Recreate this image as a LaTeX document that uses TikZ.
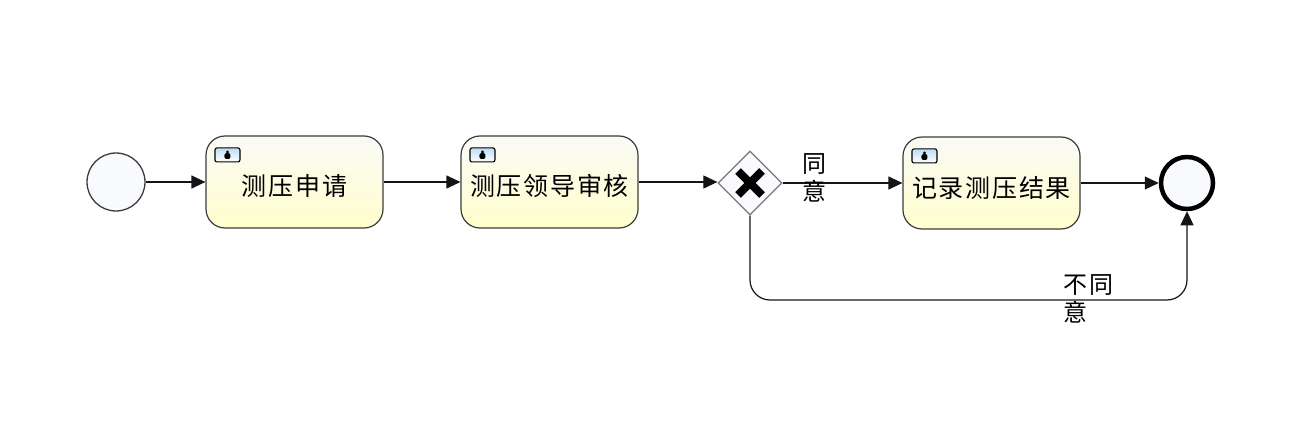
\documentclass[tikz,border=0pt]{standalone}
\usepackage{fontspec}
\newfontfamily\cjk[LetterSpace=7]{Noto Sans CJK SC}
\usetikzlibrary{arrows.meta}
\usetikzlibrary{positioning,shapes.geometric,shapes.misc}
\definecolor{line1}{RGB}{20, 20, 20}
\definecolor{edge1}{RGB}{60, 60, 60}
\definecolor{edge2}{RGB}{120, 120, 120}
\definecolor{fill1}{RGB}{248, 250, 254}
\definecolor{top1}{RGB}{250, 250, 246}
\definecolor{bottom1}{RGB}{255, 255, 205}
\definecolor{icon1}{RGB}{190, 220, 245}
\tikzset{
  task/.style={rectangle,rounded corners=19pt,draw=edge1,line width=1.2pt,top color=top1,bottom color=bottom1,
    minimum width=177pt,minimum height=92pt,inner sep=0pt,text=black,
    font=\cjk\fontsize{25}{28}\selectfont,text height=32pt,text depth=4pt},
  usericon/.style={rectangle,rounded corners=2pt,draw=black,line width=1.1pt,top color=icon1,bottom color=white,
    minimum width=25pt,minimum height=14pt,inner sep=0pt,
    path picture={
      \fill[black] (path picture bounding box.center) ++(0,3pt) circle (1.6pt);
      \fill[black] (path picture bounding box.center) ++(-3pt,-4pt) rectangle ++(6pt,5.8pt);
    }},
  startev/.style={circle,draw=edge1,line width=1.3pt,fill=fill1,minimum size=58pt,inner sep=0pt},
  endev/.style={circle,draw=black,line width=4.5pt,fill=fill1,minimum size=52pt,inner sep=0pt},
  gateway/.style={diamond,draw=edge2,line width=1.3pt,fill=fill1,minimum size=64pt,inner sep=0pt},
  xmark/.style={cross out,draw=black,line width=8pt,minimum size=16pt,inner sep=0pt},
  flow/.style={-{Triangle[length=14pt,width=13pt]},draw=line1,line width=1.2pt},
  flowlabel/.style={align=left,inner sep=0pt,font=\cjk\fontsize{24}{28}\selectfont,text=black}
}
\begin{document}
\begin{tikzpicture}[x=1pt,y=-1pt]
  \useasboundingbox (0,0) rectangle (1304,425);

  \node[startev] (start) at (116,182) {};
  \node[task] (apply) at (294.5,182) {测压申请};
  \node[task] (review) at (549.5,182) {测压领导审核};
  \node[gateway] (gate) at (750,183) {};
  \node[xmark] (gatex) at (gate) {};
  \node[task] (record) at (991.5,183) {记录测压结果};
  \node[endev] (finish) at (1187,183) {};

  \node[usericon] (icon1) [below right=12pt and 9pt of apply.north west] {};
  \node[usericon] (icon2) [below right=12pt and 9pt of review.north west] {};
  \node[usericon] (icon3) [below right=12pt and 9pt of record.north west] {};

  \coordinate (low) at (970,300);

  \draw[flow] (start) -- (apply);
  \draw[flow] (apply) -- (review);
  \draw[flow] (review.east) -- (review.east -| gate.west);
  \draw[flow] (gate) -- (record);
  \draw[flow] (record.east) -- (finish.west);
  \draw[flow,rounded corners=20pt] (gate.south) |- (low) -| (finish.south);

  \node[flowlabel] (agree) at (814,178) {同\\意};
  \node[flowlabel] (reject) at (1088,298.5) {不\hspace{2pt}同\\意};
\end{tikzpicture}
\end{document}
